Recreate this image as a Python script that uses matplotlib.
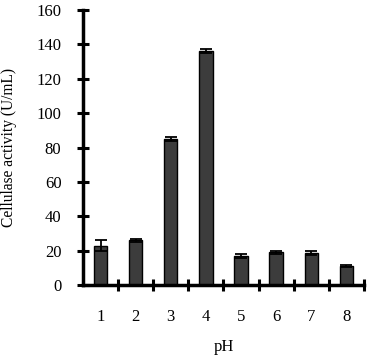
import matplotlib
matplotlib.use("Agg")
import matplotlib.pyplot as plt
import numpy as np

categories = ["1", "2", "3", "4", "5", "6", "7", "8"]
activity = [23, 26, 85, 136, 17, 19, 18.5, 11]
errors = [3, 1, 1, 1, 1, 1, 1.2, 0.6]

plt.rcParams['font.family'] = ['Liberation Serif', 'DejaVu Serif']

fig = plt.figure(figsize=(3.68, 3.55), dpi=100)
ax = fig.add_axes([0.2255, 0.197, 0.7635, 0.775])

x = np.arange(1, len(categories) + 1)
ax.bar(x, activity, width=0.38, color='#3c3c3c', edgecolor='black', linewidth=1.0,
       yerr=errors, error_kw=dict(ecolor='black', elinewidth=1.3, capsize=4, capthick=1.3))

ax.set_xlim(0.5, len(categories) + 0.5)
ax.set_ylim(0, 160)
ax.set_yticks(np.arange(0, 161, 20))
ax.set_xticks(x)
ax.set_xticklabels(categories)
ax.set_xticks(np.arange(1.5, len(categories) + 0.6, 1), minor=True)

for s in ['top', 'right']:
    ax.spines[s].set_visible(False)
for s in ['left', 'bottom']:
    ax.spines[s].set_linewidth(2.5)

ax.tick_params(axis='x', which='major', length=0, pad=17.5, labelsize=12)
ax.tick_params(axis='x', which='minor', direction='inout', length=9, width=2.2)
ax.tick_params(axis='y', direction='inout', length=9, width=2.2, pad=11, labelsize=12)

ax.set_xlabel('pH', fontsize=12, labelpad=10)
ax.set_ylabel('Cellulase activity (U/mL)', fontsize=11.2, labelpad=14)

fig.savefig('out.png', dpi=100)
